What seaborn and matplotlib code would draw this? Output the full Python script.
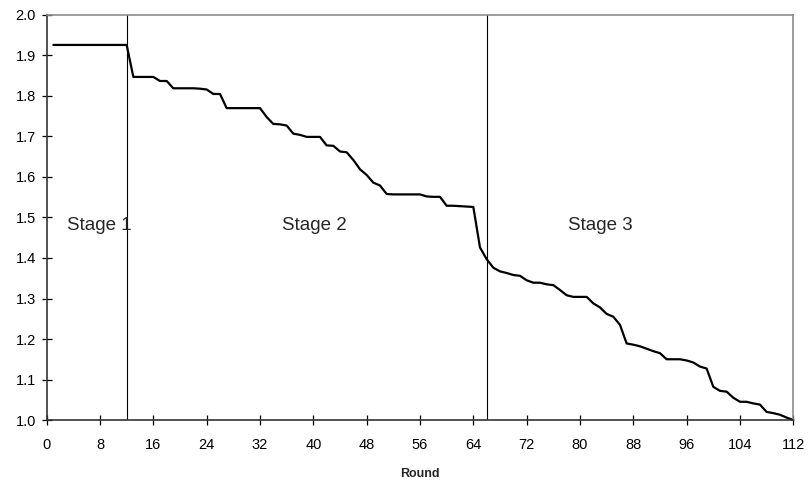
import numpy as np
import pandas as pd
import matplotlib
matplotlib.use("Agg")
import matplotlib.pyplot as plt
import seaborn as sns

# Scarcity level per round
rounds = list(range(1, 113))
values = (
    [1.926] * 12
    + [1.847, 1.847, 1.847, 1.847, 1.837, 1.837, 1.819, 1.819, 1.819, 1.819,
       1.818, 1.816, 1.805, 1.805, 1.770, 1.770, 1.770, 1.770, 1.770, 1.770,
       1.748, 1.731, 1.730, 1.727, 1.707, 1.704, 1.699, 1.699, 1.699, 1.678,
       1.677, 1.663, 1.661, 1.642, 1.619, 1.605, 1.586, 1.579, 1.558, 1.557,
       1.557, 1.557, 1.557, 1.557, 1.552, 1.551, 1.551, 1.529, 1.529, 1.528,
       1.527, 1.526, 1.426, 1.397, 1.376, 1.367, 1.363, 1.358, 1.356, 1.345,
       1.339, 1.339, 1.335, 1.333, 1.321, 1.308, 1.304, 1.304, 1.304, 1.288,
       1.278, 1.262, 1.255, 1.235, 1.189, 1.186, 1.182, 1.176, 1.170, 1.165,
       1.150, 1.150, 1.150, 1.147, 1.142, 1.132, 1.127, 1.082, 1.072, 1.070,
       1.055, 1.045, 1.045, 1.041, 1.038, 1.020, 1.017, 1.013, 1.006, 1.000]
)

stage_bounds = [12, 66]
stage_labels = ["Stage 1", "Stage 2", "Stage 3"]
stage_label_x = [7.9, 40.2, 83.1]
stage_label_y = 1.48

x_ticks = list(range(0, 113, 8))
y_ticks = [1.0, 1.1, 1.2, 1.3, 1.4, 1.5, 1.6, 1.7, 1.8, 1.9, 2.0]

df = pd.DataFrame({"Round": rounds, "Value": values})

sns.set_style("ticks")
plt.rcParams["font.family"] = ["Liberation Sans", "DejaVu Sans"]

fig = plt.figure(figsize=(8.09, 4.83), dpi=100)
ax = fig.add_axes([0.0577, 0.1304, 0.9229, 0.8386])

sns.lineplot(data=df, x="Round", y="Value", ax=ax, color="black",
             linewidth=1.6, clip_on=False)

for b in stage_bounds:
    ax.axvline(b, color="black", linewidth=0.8)

for lbl, lx in zip(stage_labels, stage_label_x):
    ax.text(lx, stage_label_y, lbl, ha="center", va="center", fontsize=13.5)

ax.set_xlim(0, 112)
ax.set_ylim(1.0, 2.0)
ax.set_xticks(x_ticks)
ax.set_yticks(y_ticks)
ax.set_yticklabels([f"{v:.1f}" for v in y_ticks])
ax.tick_params(axis="both", direction="inout", length=7.5, width=0.9,
               labelsize=10.5, colors="black")
ax.tick_params(axis="y", pad=4)
ax.tick_params(axis="x", pad=9)
ax.set_xlabel("Round", fontsize=9, fontweight="bold", labelpad=12)
ax.set_ylabel("")

for side in ["left", "bottom"]:
    ax.spines[side].set_color("#333333")
    ax.spines[side].set_linewidth(1.2)
for side in ["top", "right"]:
    ax.spines[side].set_visible(True)
    ax.spines[side].set_color("#8c8c8c")
    ax.spines[side].set_linewidth(1.2)

fig.savefig("out.png", dpi=100)
